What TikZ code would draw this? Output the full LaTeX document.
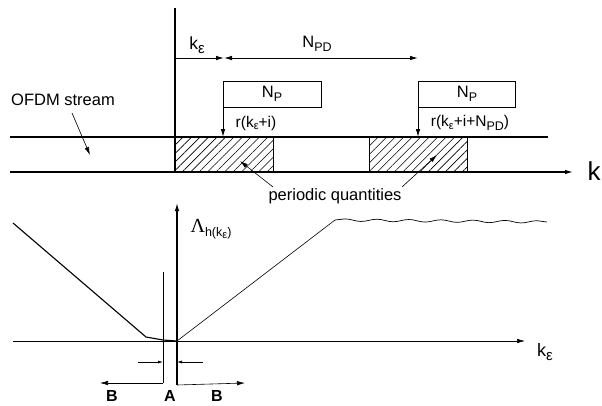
\documentclass[tikz,border=0pt]{standalone}
\usepackage{fontspec}
\setmainfont{Liberation Sans}
\newfontfamily\serifgr{Liberation Serif}
\usetikzlibrary{arrows.meta,patterns.meta,decorations.pathmorphing}
\newcommand\lo[1]{\raisebox{-0.45ex}{\fontsize{12.5}{13}\selectfont #1}}
\newcommand\lobig[1]{\raisebox{-0.45ex}{\fontsize{15}{16}\selectfont #1}}
\newcommand\loo[1]{\raisebox{-0.3ex}{\fontsize{11}{12}\selectfont #1}}
\begin{document}
\begin{tikzpicture}[x=1pt,y=-1pt,
  font=\fontsize{16.5}{18}\selectfont,
  >={Latex[length=8pt,width=4.5pt]},
  txt/.style={inner sep=0pt},
  thickln/.style={line width=1.2pt},
  boxln/.style={line width=0.9pt},
  thinln/.style={line width=0.6pt},
  hatch/.style={draw,line width=1pt,pattern={Lines[angle=45,distance=6pt,line width=0.6pt]}},
  smallarr/.style={line width=0.6pt,-{Latex[length=5pt,width=3pt]}},
  ablbl/.style={inner sep=0pt,font=\bfseries\fontsize{16}{18}\selectfont}]
\useasboundingbox (0,0) rectangle (602,405);

% ---------- top part ----------
\coordinate (vtop) at (175,8);
\coordinate (vbot) at (175,172);
\coordinate (ke) at (175,58);
\coordinate (pd1) at (224,58);
\coordinate (pd2) at (418,58);
\coordinate (a1t) at (223,81);
\coordinate (a1b) at (223,137);
\coordinate (a2t) at (418,81);
\coordinate (a2b) at (418,137);
\coordinate (st1) at (10,137);
\coordinate (st2) at (548,137);
\coordinate (sb1) at (10,172);
\coordinate (sb2) at (573,172);

\draw[hatch] (175,137) rectangle (273,172);
\draw[hatch] (369,137) rectangle (467,172);

\draw[thickln] (vtop) -- (vbot);
\draw[thickln] (st1) -- (st2);
\draw[thickln,->] (sb1) -- (sb2);

\draw[boxln,->] (ke) -- (pd1);
\draw[boxln,<->] (pd1) -- (pd2);

\node[txt,font=\fontsize{17.5}{19}\selectfont] (lke) at (197,45) {k\lobig{ε}};
\node[txt] (lnpd) at (317,44) {N\lo{PD}};

\draw[boxln] (a1t) -- (321,81) -- (321,107) -- (223,107);
\draw[boxln,->] (a1t) -- (a1b);
\draw[boxln] (a2t) -- (515,81) -- (515,107) -- (418,107);
\draw[boxln,->] (a2t) -- (a2b);

\node[txt] (np1) at (272,94) {N\lo{P}};
\node[txt] (np2) at (467,94) {N\lo{P}};
\node[txt,font=\fontsize{15.5}{17}\selectfont] (r1) at (256,123) {r(k\loo{ε}+i)};
\node[txt,font=\fontsize{15.5}{17}\selectfont] (r2) at (470,123) {r(k\loo{ε}+i+N\lo{PD})};

\node[txt,font=\fontsize{26}{28}\selectfont] (lk) at (594,171) {k};

\node[txt] (ofdm) at (63,100) {OFDM stream};
\coordinate (ofa) at (72,113);
\coordinate (ofb) at (90,155);
\draw[thinln,->] (ofa) -- (ofb);

\node[txt] (pq) at (335,196) {periodic quantities};
\coordinate (pqa1) at (273,187);
\coordinate (pqb1) at (240,161);
\coordinate (pqa2) at (402,187);
\coordinate (pqb2) at (437,155);
\draw[thinln,->] (pqa1) -- (pqb1);
\draw[thinln,->] (pqa2) -- (pqb2);

% ---------- bottom part ----------
\coordinate (yb) at (177,385);
\coordinate (yt) at (177,203);
\coordinate (xl) at (13,341);
\coordinate (xr) at (525,341);
\coordinate (o) at (177,341);
\coordinate (tvt) at (163,272);
\coordinate (tvb) at (163,383);

\draw[thinln] (xl) -- (o);
\draw[thinln,->] (o) -- (xr);
\draw[thickln,->] (yb) -- (yt);
\draw[thinln] (tvt) -- (tvb);

\draw[line width=1.1pt] (13,223) -- (146,337) -- (163,340) -- (o);
\draw[thinln] (o) -- (335,220);
\draw[line width=0.7pt,decorate,decoration={snake,segment length=32pt,amplitude=1.2pt}] (335,220) -- (547,222);

\node[txt] (lam) at (211,229) {{\serifgr\fontsize{20}{22}\selectfont Λ}\lo{h(k\loo{ε})}};
\node[txt,font=\fontsize{18}{20}\selectfont] (lke2) at (545,352) {k\lobig{ε}};

\coordinate (aa1) at (138,362);
\coordinate (aa2) at (163,362);
\coordinate (ab1) at (203,362);
\coordinate (ab2) at (177,362);
\draw[smallarr] (aa1) -- (aa2);
\draw[smallarr] (ab1) -- (ab2);
\coordinate (bl) at (100,383);
\coordinate (br) at (245,383);
\draw[thinln,->] (tvb) -- (bl);
\draw[thinln,->] (yb) -- (br);

\node[ablbl] (lb1) at (112,396) {B};
\node[ablbl] (la) at (170,396) {A};
\node[ablbl] (lb2) at (217,396) {B};
\end{tikzpicture}
\end{document}
